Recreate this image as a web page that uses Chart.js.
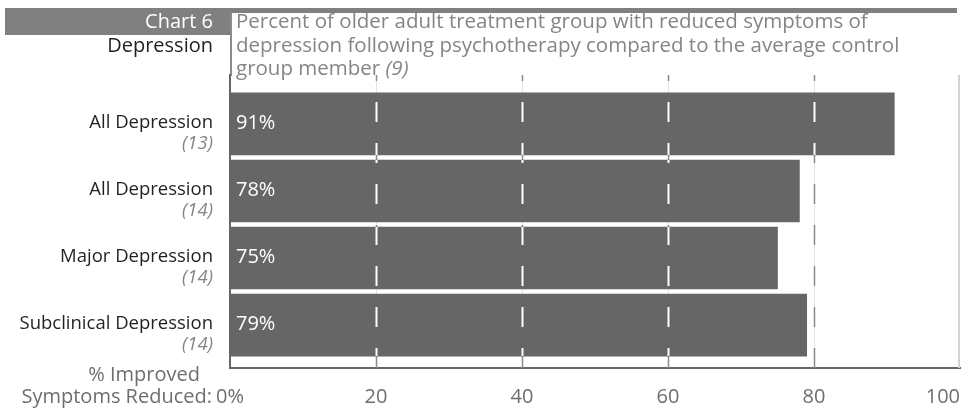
<!DOCTYPE html>
<html>
<head>
<meta charset="utf-8">
<script src="https://cdn.jsdelivr.net/npm/chart.js@4.4.1/dist/chart.umd.min.js"></script>
<style>
  html, body { margin: 0; padding: 0; background: #fff; }
  #wrap { width: 961px; height: 408px; position: relative; }
</style>
</head>
<body>
<div id="wrap"><canvas id="c" width="961" height="408"></canvas></div>
<script>
// ---- data ----
const categories = ["All Depression", "All Depression", "Major Depression", "Subclinical Depression"];
const studyRefs = ["(13)", "(14)", "(14)", "(14)"];
const values = [91, 78, 75, 79];
const valueLabels = ["91%", "78%", "75%", "79%"];
const xTickLabels = ["0%", "20", "40", "60", "80", "100"];
const chartNumber = "Chart 6";
const chartTopic = "Depression";
const titleLines = [
  ["Percent of older adult treatment group with reduced symptoms of", ""],
  ["depression following psychotherapy compared to the average control", ""],
  ["group member ", "(9)"]
];
const axisTitleLines = ["% Improved", "Symptoms Reduced:"];

const FONT = "'Open Sans', 'Noto Sans', sans-serif";
const BAR = '#666666';
const DARK = '#231f20';
const GRAY = '#858585';
const F_TITLE = 20.5;
const F_BIG = 20;   // ticks, value labels
const F_CAT = 18.5; // category labels

const deco = {
  id: 'deco',
  beforeDraw(chart) {
    const ctx = chart.ctx, ca = chart.chartArea;
    ctx.save();
    ctx.fillStyle = '#fff';
    ctx.fillRect(0, 0, chart.width, chart.height);
    // header band
    ctx.fillStyle = '#808080';
    ctx.fillRect(5, 8, 952, 5);
    ctx.fillRect(5, 8, 225, 27);
    // title box left border
    ctx.fillStyle = '#8c8c8c';
    ctx.fillRect(230, 13, 2, ca.top - 13 + 1);
    ctx.textBaseline = 'middle';
    ctx.textAlign = 'right';
    ctx.font = `${F_BIG}px ${FONT}`;
    ctx.fillStyle = '#ffffff';
    ctx.fillText(chartNumber, 213, 22);
    ctx.fillStyle = DARK;
    ctx.fillText(chartTopic, 213, 46);
    // title text
    ctx.textAlign = 'left';
    ctx.fillStyle = GRAY;
    const ys = [22, 46, 69];
    titleLines.forEach((parts, i) => {
      ctx.font = `${F_TITLE}px ${FONT}`;
      ctx.fillText(parts[0], 236, ys[i]);
      if (parts[1]) {
        const w = ctx.measureText(parts[0]).width;
        ctx.font = `italic ${F_TITLE}px ${FONT}`;
        ctx.fillText(parts[1], 236 + w, ys[i]);
      }
    });
    ctx.restore();
  },
  beforeDatasetsDraw(chart) {
    const ctx = chart.ctx, ca = chart.chartArea, xs = chart.scales.x;
    ctx.save();
    xs.ticks.forEach(t => {
      if (t.value <= xs.min || t.value >= xs.max) return;
      const x = Math.round(xs.getPixelForValue(t.value)) + 0.5;
      ctx.strokeStyle = '#e4e4e4';
      ctx.lineWidth = 1;
      ctx.setLineDash([]);
      ctx.beginPath(); ctx.moveTo(x, ca.top); ctx.lineTo(x, ca.bottom); ctx.stroke();
      ctx.strokeStyle = '#8a8a8a';
      ctx.lineWidth = 1.5;
      ctx.setLineDash([20, 21]);
      ctx.lineDashOffset = 14;
      ctx.beginPath(); ctx.moveTo(x, ca.top); ctx.lineTo(x, ca.bottom); ctx.stroke();
    });
    // right border
    ctx.setLineDash([]);
    ctx.strokeStyle = '#d2d2d2';
    ctx.lineWidth = 2;
    ctx.beginPath(); ctx.moveTo(ca.right - 1, ca.top); ctx.lineTo(ca.right - 1, ca.bottom); ctx.stroke();
    ctx.restore();
  },
  afterDatasetsDraw(chart) {
    const ctx = chart.ctx, ca = chart.chartArea, xs = chart.scales.x;
    const bars = chart.getDatasetMeta(0).data;
    ctx.save();
    ctx.beginPath();
    bars.forEach(b => {
      const h = b.height;
      ctx.rect(Math.min(b.base, b.x), b.y - h / 2, Math.abs(b.x - b.base), h);
    });
    ctx.clip();
    ctx.strokeStyle = '#ffffff';
    ctx.lineWidth = 2;
    ctx.setLineDash([20, 21]);
    ctx.lineDashOffset = 14;
    xs.ticks.forEach(t => {
      if (t.value <= xs.min || t.value >= xs.max) return;
      const x = Math.round(xs.getPixelForValue(t.value)) + 0.5;
      ctx.beginPath(); ctx.moveTo(x, ca.top); ctx.lineTo(x, ca.bottom); ctx.stroke();
    });
    ctx.restore();
    // value labels
    ctx.save();
    ctx.font = `${F_BIG}px ${FONT}`;
    ctx.fillStyle = '#ffffff';
    ctx.textBaseline = 'middle';
    ctx.textAlign = 'left';
    bars.forEach((b, i) => {
      ctx.fillText(valueLabels[i], b.base + 6, b.y - 1);
    });
    ctx.restore();
  },
  afterDraw(chart) {
    const ctx = chart.ctx, ca = chart.chartArea, xs = chart.scales.x, ys = chart.scales.y;
    ctx.save();
    ctx.textBaseline = 'middle';
    // category labels
    categories.forEach((c, i) => {
      const y = ys.getPixelForValue(i);
      ctx.textAlign = 'right';
      ctx.font = `${F_CAT}px ${FONT}`;
      ctx.fillStyle = DARK;
      ctx.fillText(c, 213, y - 1);
      ctx.font = `italic ${F_CAT}px ${FONT}`;
      ctx.fillStyle = GRAY;
      ctx.fillText(studyRefs[i], 213, y + 20);
    });
    // x tick labels
    ctx.font = `${F_BIG}px ${FONT}`;
    ctx.fillStyle = '#6e6e6e';
    xs.ticks.forEach((t, i) => {
      const x = xs.getPixelForValue(t.value);
      if (i === xs.ticks.length - 1) {
        ctx.textAlign = 'right';
        ctx.fillText(xTickLabels[i], ca.right, 397);
      } else {
        ctx.textAlign = 'center';
        ctx.fillText(xTickLabels[i], x, 397);
      }
    });
    // axis title
    ctx.textAlign = 'right';
    ctx.fillText(axisTitleLines[0], 200, 375);
    ctx.fillText(axisTitleLines[1], 212, 397);
    ctx.restore();
  }
};

new Chart(document.getElementById('c'), {
  type: 'bar',
  data: {
    datasets: [{
      data: values.map((v, i) => ({ x: v, y: i })),
      backgroundColor: BAR,
      borderWidth: 0,
      barThickness: 62
    }]
  },
  options: {
    indexAxis: 'y',
    responsive: false,
    animation: false,
    devicePixelRatio: 1,
    layout: { padding: { top: 75, right: 1, left: 0, bottom: 0 } },
    plugins: { legend: { display: false }, tooltip: { enabled: false } },
    scales: {
      x: {
        type: 'linear',
        min: 0, max: 100,
        ticks: { stepSize: 20, display: false },
        grid: { display: false, drawTicks: false },
        border: { display: true, color: '#666666', width: 2 },
        afterFit: s => { s.height = 40; }
      },
      y: {
        type: 'linear',
        reverse: true,
        offset: false,
        min: -0.73, max: 3.64,
        ticks: { display: false },
        grid: { display: false, drawTicks: false, offset: false },
        border: { display: true, color: '#666666', width: 2 },
        afterFit: s => { s.width = 230; }
      }
    }
  },
  plugins: [deco]
});
</script>
</body>
</html>
